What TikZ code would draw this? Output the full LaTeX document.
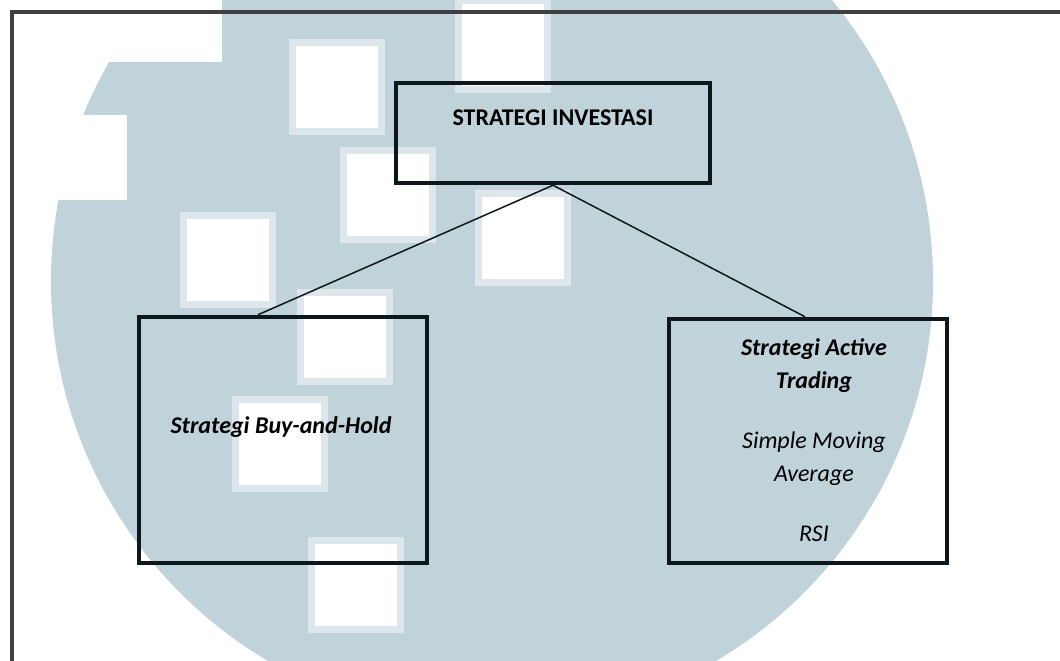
\documentclass[tikz,border=0pt]{standalone}
\usepackage{fontspec}
\setmainfont{Carlito}
\usetikzlibrary{positioning}
\definecolor{wmblue}{RGB}{193,211,218}
\definecolor{boxline}{RGB}{14,24,28}
\tikzset{box/.style={rectangle, draw=boxline, line width=4.5pt, text centered},frame/.style={draw=black!75,line width=4pt},link/.style={draw=boxline,line width=1.5pt},wsquare/.style={fill=white},whalo/.style={fill=wmblue!55}}
\tikzstyle{label text}=[font=\fontsize{24}{33}\selectfont,align=center,inner sep=0pt]

\begin{document}
\begin{tikzpicture} [x=1pt,y=-1pt]

\useasboundingbox (0,0) rectangle (1060,661);
\clip (0,0) rectangle (1060,661);
\fill[white] (0,0) rectangle (1060,661);

% watermark
\fill[wmblue] (492,281) circle (441pt);
\fill[white] (0,0) rectangle (222,62);
\fill[white] (0,115) rectangle (127,200);
\foreach \x/\y in {292/42, 458/0, 343/150, 183/215, 300/292, 235/399, 311/540, 478/193}
{
  \fill[whalo] (\x-3,\y-3) rectangle ++(96,96);
  \fill[wsquare] (\x+4,\y+4) rectangle ++(82,82);
}

% frame
\draw[frame] (12,700) -- (12,12) -- (1100,12);

\node (invest) at (553,133)[box,minimum width=314pt,minimum height=100pt]{};
\node (bh) at (283,440)[box,minimum width=288pt,minimum height=246pt]{};
\node (active) at (808,441)[box,minimum width=278pt,minimum height=244pt]{};

\node (investtxt) at (553,118)[label text]{\textbf{STRATEGI INVESTASI}};
\node (bhtxt) at (281,427)[label text]{\textbf{\textit{Strategi Buy-and-Hold}}};
\node (activetxt) at (814,440)[label text]{\textbf{\textit{Strategi Active}}\\\textbf{\textit{Trading}}\\[27pt]\textit{Simple Moving}\\\textit{Average}\\[27pt]\textit{RSI}};

\draw[link] (invest.south) -- ([xshift=-25pt]bh.north);
\draw[link] (invest.south) -- ([xshift=-3pt]active.north);
\end{tikzpicture}
\end{document}
